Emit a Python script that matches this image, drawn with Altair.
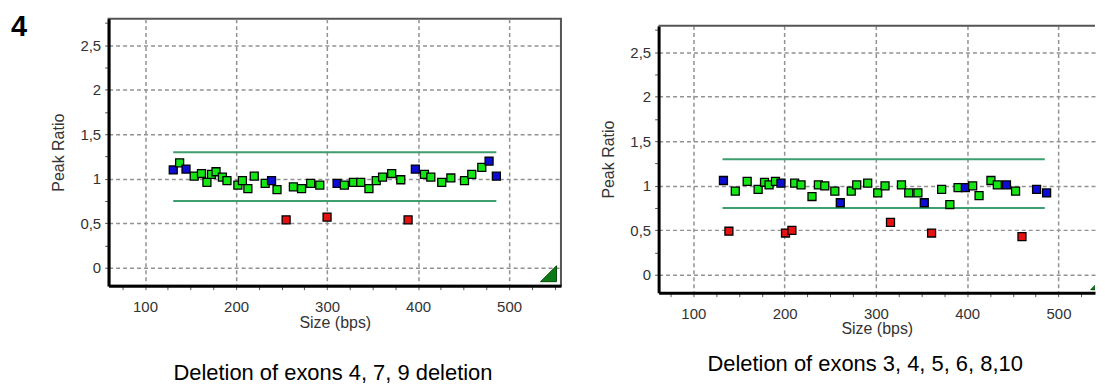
import altair as alt
import pandas as pd

# ---------------- data ----------------
left_size = [131, 138, 145, 154, 162, 168, 173, 178, 185, 190, 202, 207, 213, 220, 232,
             239, 245, 255, 263, 272, 282, 292, 300, 311, 319, 329, 337, 346, 354, 361,
             371, 381, 389, 397, 407, 414, 426, 436, 451, 459, 470, 478, 486]
left_ratio = [1.10, 1.18, 1.11, 1.03, 1.06, 0.96, 1.05, 1.08, 1.02, 0.98, 0.93, 0.98, 0.89, 1.03, 0.95,
              0.98, 0.88, 0.54, 0.91, 0.89, 0.95, 0.93, 0.57, 0.95, 0.93, 0.96, 0.96, 0.89, 0.98, 1.02,
              1.06, 0.99, 0.54, 1.11, 1.05, 1.02, 0.96, 1.01, 0.98, 1.05, 1.13, 1.20, 1.03]
left_cls = ["ref", "ok", "ref", "ok", "ok", "ok", "ok", "ok", "ok", "ok", "ok", "ok", "ok", "ok", "ok",
            "ref", "ok", "del", "ok", "ok", "ok", "ok", "del", "ref", "ok", "ok", "ok", "ok", "ok", "ok",
            "ok", "ok", "del", "ref", "ok", "ok", "ok", "ok", "ok", "ok", "ok", "ref", "ref"]

right_size = [133, 139, 146, 159, 171, 178, 183, 190, 196, 201, 208, 211, 218, 230, 237,
              244, 255, 261, 273, 279, 291, 302, 310, 316, 328, 336, 346, 353, 361, 372,
              381, 390, 398, 406, 413, 426, 433, 443, 453, 460, 476, 487]
right_ratio = [1.06, 0.49, 0.94, 1.05, 0.96, 1.04, 1.01, 1.05, 1.03, 0.47, 0.50, 1.03, 1.01, 0.88, 1.01,
               1.00, 0.94, 0.81, 0.94, 1.01, 1.03, 0.92, 1.00, 0.59, 1.01, 0.92, 0.92, 0.81, 0.47, 0.96,
               0.79, 0.98, 0.98, 1.00, 0.89, 1.06, 1.01, 1.01, 0.94, 0.43, 0.96, 0.92]
right_cls = ["ref", "del", "ok", "ok", "ok", "ok", "ok", "ok", "ref", "del", "del", "ok", "ok", "ok", "ok",
             "ok", "ok", "ref", "ok", "ok", "ok", "ok", "ok", "del", "ok", "ok", "ok", "ref", "del", "ok",
             "ok", "ok", "ref", "ok", "ok", "ok", "ok", "ref", "ok", "del", "ref", "ref"]

band_limits = [1.3, 0.75]
left_band_range = [131, 486]
right_band_range = [132, 485]

left_x_domain = [60, 557]
right_x_domain = [62, 540]
y_domain = [-0.2, 2.8]

left_x_ticks = [75, 100, 125, 150, 175, 200, 225, 250, 275, 300, 325, 350, 375, 400, 425, 450, 475, 500, 525, 550]
right_x_ticks = [75, 100, 125, 150, 175, 200, 225, 250, 275, 300, 325, 350, 375, 400, 425, 450, 475, 500, 525]
y_ticks = [0, 0.25, 0.5, 0.75, 1, 1.25, 1.5, 1.75, 2, 2.25, 2.5, 2.75]

panel_label = "4"
left_caption = "Deletion of exons 4, 7, 9 deletion"
right_caption = "Deletion of exons 3, 4, 5, 6, 8,10"

# ---------------- styling ----------------
FONT = "Liberation Sans, Arial, Helvetica, sans-serif"
PLOT_H = 268
LEFT_W = 454
RIGHT_W = 438

cls_scale = alt.Scale(domain=["ok", "ref", "del"], range=["#14e614", "#0c0cd2", "#e61212"])


def make_axes(xticks):
    xaxis = alt.Axis(
        values=xticks, title="Size (bps)",
        labelExpr="datum.value % 100 === 0 ? datum.label : ''",
        grid=True,
        gridOpacity={"condition": {"test": "datum.value % 100 === 0", "value": 1}, "value": 0},
        gridDash=[4, 3], gridColor="#929292", gridWidth=1.5,
        tickSize=4, tickColor="#555555", tickWidth=1,
        labelPadding=9.5, labelFontSize=15, labelColor="#333333", labelFont=FONT,
        titleFont=FONT, titleFontSize=16, titleFontWeight="normal", titleColor="#333333",
        titlePadding=0, domainColor="black", domainWidth=3,
    )
    yaxis = alt.Axis(
        values=y_ticks, title="Peak Ratio",
        labelExpr="datum.value % 0.5 === 0 ? replace(format(datum.value, '.1~f'), '.', ',') : ''",
        grid=True,
        gridOpacity={"condition": {"test": "datum.value % 0.5 === 0", "value": 1}, "value": 0},
        gridDash=[4, 3], gridColor="#929292", gridWidth=1.5,
        tickSize=4, tickColor="#555555", tickWidth=1,
        labelPadding=4, labelFontSize=15, labelColor="#333333", labelFont=FONT,
        titleFont=FONT, titleFontSize=16, titleFontWeight="normal", titleColor="#333333",
        titlePadding=13, domainColor="black", domainWidth=3,
    )
    return xaxis, yaxis


def panel(size, ratio, cls, band_range, xdom, xticks, width, caption, cap_dx, cap_offset,
          tri_x, tri_y, is_left):
    xaxis, yaxis = make_axes(xticks)
    xs = alt.Scale(domain=xdom, nice=False, zero=False)
    ys = alt.Scale(domain=y_domain, nice=False, zero=False)

    pts = pd.DataFrame({"size": size, "ratio": ratio, "cls": cls})
    bands = pd.DataFrame({"x0": [band_range[0]] * len(band_limits),
                          "x1": [band_range[1]] * len(band_limits),
                          "y": band_limits})
    one = pd.DataFrame({"k": [0]})

    rules = alt.Chart(bands).mark_rule(color="#3d9e6e", strokeWidth=2).encode(
        x=alt.X("x0:Q", scale=xs, axis=xaxis),
        x2="x1:Q",
        y=alt.Y("y:Q", scale=ys, axis=yaxis),
    )
    points = alt.Chart(pts).mark_point(
        shape="square", filled=True, size=64, stroke="black", strokeWidth=1.3, opacity=1
    ).encode(
        x=alt.X("size:Q", scale=xs, axis=xaxis),
        y=alt.Y("ratio:Q", scale=ys, axis=yaxis),
        fill=alt.Fill("cls:N", scale=cls_scale, legend=None),
    )
    tri = alt.Chart(one).mark_point(
        shape="M -1 1 L 1 1 L 1 -1 Z", filled=True, size=256, fill="#0b7a14",
        stroke="#064a0a", strokeWidth=1, opacity=1, clip=True
    ).encode(x=alt.value(tri_x), y=alt.value(tri_y))

    layers = [rules, points, tri]
    if is_left:
        label = alt.Chart(one).mark_text(
            text=panel_label, font=FONT, fontSize=29, fontWeight="bold", color="black",
            align="left", baseline="alphabetic"
        ).encode(x=alt.value(-98), y=alt.value(17))
        layers.append(label)
    else:
        top = alt.Chart(one).mark_rule(color="#555555", strokeWidth=2).encode(
            x=alt.value(0), x2=alt.value(width), y=alt.value(0))
        layers.append(top)

    ch = alt.layer(*layers).properties(
        width=width, height=PLOT_H,
        title=alt.TitleParams(text=caption, orient="bottom", anchor="start", frame="group",
                              dx=cap_dx, offset=cap_offset, fontSize=22, fontWeight="normal",
                              font=FONT, color="black"),
    )
    if not is_left:
        ch = ch.properties(view=alt.ViewBackground(stroke="transparent"))
    return ch


left = panel(left_size, left_ratio, left_cls, left_band_range, left_x_domain, left_x_ticks,
             LEFT_W, left_caption, 65, 33, LEFT_W - 12.5, PLOT_H - 12, True)
right = panel(right_size, right_ratio, right_cls, right_band_range, right_x_domain, right_x_ticks,
              RIGHT_W, right_caption, 49, 17, 441.7, PLOT_H - 11, False)

# thin invisible spacer that drops the right panel a few pixels lower than the left one
spacer = alt.Chart(pd.DataFrame({"k": [0]})).mark_rule(strokeWidth=0, opacity=0).encode(
    x=alt.value(0), x2=alt.value(1), y=alt.value(0.5)
).properties(width=RIGHT_W, height=1, view=alt.ViewBackground(stroke="transparent"))

right_col = alt.vconcat(spacer, right, spacing=3)

chart = alt.hconcat(left, right_col, spacing=38).properties(
    padding={"left": 2, "top": 3, "right": 0, "bottom": 0}
).configure_view(stroke="#555555", strokeWidth=2)

chart.save("out.html", embed_options={"renderer": "svg", "actions": False})
